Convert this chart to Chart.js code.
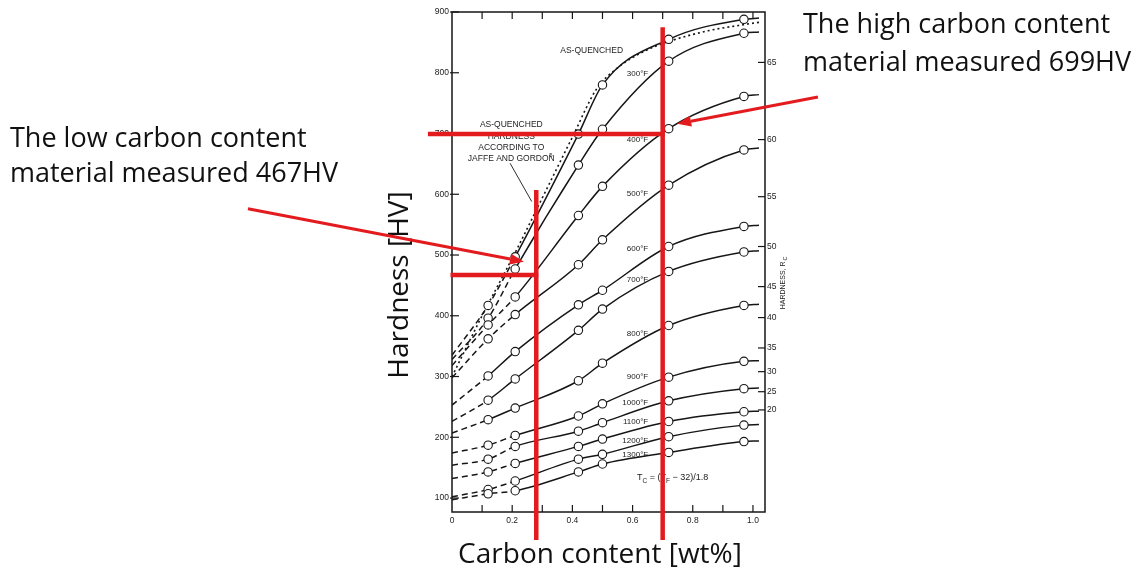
<!DOCTYPE html>
<html>
<head>
<meta charset="utf-8">
<script src="https://cdn.jsdelivr.net/npm/chart.js@4.4.0/dist/chart.umd.min.js"></script>
<style>
  html, body { margin: 0; padding: 0; background: #fff; }
  #wrap { width: 1141px; height: 573px; }
</style>
</head>
<body>
<div id="wrap"><canvas id="myChart"></canvas></div>
<script>
// carbon content [wt%] where the circles sit
const carbon = [0.12, 0.21, 0.42, 0.50, 0.72, 0.97]
const carbonStart = 0
const carbonEnd = 1.02

// hardness [HV] at those carbon contents, one list per tempering temperature
const asQuenched = [417, 497, 699, 780, 855, 888]
const temper300 = [396, 477, 648, 707, 819, 865]
const temper400 = [385, 431, 565, 613, 708, 761]
const temper500 = [362, 402, 484, 525, 615, 673]
const temper600 = [301, 341, 418, 442, 514, 547]
const temper700 = [261, 296, 376, 411, 473, 505]
const temper800 = [229, 248, 293, 322, 384, 417]
const temper900 = [187, 203, 235, 255, 299, 325]
const temper1000 = [164, 185, 210, 224, 260, 280]
const temper1100 = [143, 157, 185, 197, 226, 242]
const temper1200 = [114, 128, 164, 172, 201, 220]
const temper1300 = [107, 112, 143, 156, 175, 193]

// where each curve meets 0 wt% and where it stops on the right
const startHV = [335, 328, 318, 298, 253, 226, 207, 174, 154, 132, 102, 97]
const endHV = [890, 867, 764, 676, 549, 507, 419, 326, 281, 243, 221, 194]

const curveLabels = ['AS-QUENCHED', '300°F', '400°F', '500°F', '600°F', '700°F', '800°F',
  '900°F', '1000°F', '1100°F', '1200°F', '1300°F']

// as-quenched hardness according to Jaffe and Gordon (dotted)
const jaffeCarbon = [0, 0.1, 0.215, 0.3, 0.4, 0.48, 0.55, 0.65, 0.73, 0.85, 0.98, 1.02]
const jaffeHV = [300, 400, 509, 594, 694, 773, 808, 838, 853, 869, 880, 883]

// axis ticks
const xTicks = [0, 0.2, 0.4, 0.6, 0.8, 1.0]
const xMinorTicks = [0.1, 0.2, 0.3, 0.4, 0.5, 0.6, 0.7, 0.8, 0.9, 1.0]
const yTicks = [100, 200, 300, 400, 500, 600, 700, 800, 900]
const hrcTicks = [65, 60, 55, 50, 45, 40, 35, 30, 25, 20]
const hrcHV = [817, 690, 596, 514, 448, 397, 347, 308, 275, 245]

// the two measurements marked in red
const lowCarbon = 0.28
const lowHV = 467
const highCarbon = 0.70
const highHV = 699

// ---- styling / layout ----
const series = [asQuenched, temper300, temper400, temper500, temper600, temper700, temper800,
  temper900, temper1000, temper1100, temper1200, temper1300]
const dashEnd = [2, 2, 2, 2, 1, 1, 1, 2, 2, 2, 2, 2]   // last point index of dashed part
const labelCarbon = 0.652
const labelHV = [837, 798, 690, 601, 511, 460, 370, 300, 256, 226, 195, 171]
const RED = '#e31b1e'
const INK = '#161616'

const lineSets = series.map((vals, i) => {
  const pts = [{ x: carbonStart, y: startHV[i] }]
  carbon.forEach((c, j) => pts.push({ x: c, y: vals[j] }))
  pts.push({ x: carbonEnd, y: endHV[i] })
  return {
    data: pts,
    showLine: true,
    borderColor: INK,
    borderWidth: 1.5,
    pointRadius: 0,
    cubicInterpolationMode: 'monotone',
    order: 2,
    segment: { borderDash: ctx => ctx.p1DataIndex <= dashEnd[i] ? [6, 4] : [] }
  }
})

const jaffeSet = {
  data: jaffeCarbon.map((c, i) => ({ x: c, y: jaffeHV[i] })),
  showLine: true,
  borderColor: INK,
  borderWidth: 1.6,
  borderDash: [2, 3],
  pointRadius: 0,
  cubicInterpolationMode: 'monotone',
  order: 3
}

const circleSet = {
  data: series.flatMap(vals => carbon.map((c, j) => ({ x: c, y: vals[j] }))),
  showLine: false,
  pointRadius: 4.2,
  pointBorderWidth: 1.1,
  pointBorderColor: INK,
  pointBackgroundColor: '#fff',
  order: 0
}

function seg(ctx, x1, y1, x2, y2) {
  ctx.beginPath(); ctx.moveTo(x1, y1); ctx.lineTo(x2, y2); ctx.stroke()
}

function arrow(ctx, x1, y1, x2, y2) {
  const ang = Math.atan2(y2 - y1, x2 - x1)
  const len = 14, half = 5.5
  const bx = x2 - len * Math.cos(ang), by = y2 - len * Math.sin(ang)
  seg(ctx, x1, y1, bx, by)
  ctx.beginPath()
  ctx.moveTo(x2, y2)
  ctx.lineTo(bx + half * Math.sin(ang), by - half * Math.cos(ang))
  ctx.lineTo(bx - half * Math.sin(ang), by + half * Math.cos(ang))
  ctx.closePath(); ctx.fill()
}

const decor = {
  id: 'decor',
  beforeDatasetsDraw(chart) {
    const { ctx, chartArea: a, scales: { x, y, y2 } } = chart
    ctx.save()
    ctx.strokeStyle = INK
    ctx.lineWidth = 1.5
    ctx.strokeRect(a.left, a.top, a.right - a.left, a.bottom - a.top)
    ctx.lineWidth = 1.2
    xMinorTicks.forEach(v => {
      const px = x.getPixelForValue(v)
      seg(ctx, px, a.bottom, px, a.bottom - 7)
      seg(ctx, px, a.top, px, a.top + 7)
    })
    yTicks.forEach(v => {
      const py = y.getPixelForValue(v)
      seg(ctx, a.left - 2, py, a.left + 7, py)
    })
    hrcHV.forEach(v => {
      const py = y2.getPixelForValue(v)
      seg(ctx, a.right - 7, py, a.right, py)
    })
    ctx.restore()
  },
  afterDraw(chart) {
    const { ctx, chartArea: a, scales: { x, y } } = chart
    const X = c => x.getPixelForValue(c)
    const Y = v => y.getPixelForValue(v)
    ctx.save()
    ctx.fillStyle = '#1c1c1c'
    ctx.textBaseline = 'middle'

    // curve labels
    ctx.font = '8px "Liberation Sans", Arial, sans-serif'
    ctx.textAlign = 'right'
    curveLabels.forEach((s, i) => {
      if (i === 0) return
      ctx.fillText(s, X(labelCarbon), Y(labelHV[i]))
    })
    ctx.textAlign = 'center'
    ctx.font = '8.5px "Liberation Sans", Arial, sans-serif'
    ctx.fillText(curveLabels[0], X(0.464), Y(labelHV[0]))

    // Jaffe and Gordon note
    const jg = ['AS-QUENCHED', 'HARDNESS', 'ACCORDING TO', 'JAFFE AND GORDON']
    const jgHV = [714, 695, 677, 659]
    jg.forEach((s, i) => ctx.fillText(s, X(0.197), Y(jgHV[i])))
    ctx.font = '6px "Liberation Sans", Arial, sans-serif'
    ctx.textAlign = 'left'
    ctx.fillText('5', X(0.197) + 38, Y(664))
    ctx.strokeStyle = INK
    ctx.lineWidth = 0.9
    seg(ctx, X(0.193), Y(651), X(0.265), Y(588))

    // temperature conversion
    let tx = X(0.615), ty = Y(133)
    const parts = [['T', 0], ['C', 1], [' = (T', 0], ['F', 1], [' \u2212 32)/1.8', 0]]
    parts.forEach(([s, sub]) => {
      ctx.font = (sub ? '6.5px' : '9px') + ' "Liberation Sans", Arial, sans-serif'
      ctx.fillText(s, tx, ty + (sub ? 3 : 0))
      tx += ctx.measureText(s).width
    })

    // right axis title
    ctx.save()
    ctx.translate(a.right + 18, Y(455))
    ctx.rotate(-Math.PI / 2)
    ctx.textAlign = 'center'
    ctx.font = '7px "Liberation Sans", Arial, sans-serif'
    const w1 = ctx.measureText('HARDNESS, R').width
    ctx.fillText('HARDNESS, R', -3, 0)
    ctx.font = '5.5px "Liberation Sans", Arial, sans-serif'
    ctx.fillText('C', -3 + w1 / 2 + 3, 2.5)
    ctx.restore()

    // axis titles
    ctx.fillStyle = '#111'
    ctx.font = '28px "Open Sans", sans-serif'
    ctx.textAlign = 'center'
    ctx.fillText('Carbon content [wt%]', 600, 555)
    ctx.save()
    ctx.translate(400, 285)
    ctx.rotate(-Math.PI / 2)
    ctx.fillText('Hardness [HV]', 0, 0)
    ctx.restore()

    // red marks
    ctx.strokeStyle = RED
    ctx.fillStyle = RED
    ctx.lineCap = 'butt'
    ctx.lineWidth = 4.5
    seg(ctx, X(lowCarbon), Y(607), X(lowCarbon), Y(31))
    seg(ctx, X(-0.005), Y(lowHV), X(lowCarbon) + 2, Y(lowHV))
    seg(ctx, X(highCarbon), Y(875), X(highCarbon), Y(31))
    seg(ctx, X(-0.08), Y(highHV), X(highCarbon) + 2, Y(highHV))
    ctx.lineWidth = 3
    arrow(ctx, X(-0.678), Y(576), X(0.239), Y(489))
    arrow(ctx, X(1.216), Y(760), X(0.748), Y(716))

    // notes
    ctx.fillStyle = '#111'
    ctx.font = '27px "Open Sans", sans-serif'
    ctx.textAlign = 'left'
    ctx.textBaseline = 'alphabetic'
    ctx.fillText('The low carbon content', 10, 147)
    ctx.fillText('material measured ' + lowHV + 'HV', 10, 182)
    ctx.fillText('The high carbon content', 803, 33)
    ctx.fillText('material measured ' + highHV + 'HV', 803, 71)
    ctx.restore()
  }
}

const tickFont = { size: 8.5, family: '"Liberation Sans", Arial, sans-serif' }
const noGrid = { display: false, drawTicks: false }

new Chart(document.getElementById('myChart'), {
  type: 'scatter',
  data: { datasets: [circleSet, ...lineSets, jaffeSet] },
  options: {
    responsive: true,
    maintainAspectRatio: false,
    animation: false,
    devicePixelRatio: 1,
    layout: { padding: { top: 12, left: 0, right: 0, bottom: 0 } },
    plugins: { legend: { display: false }, tooltip: { enabled: false } },
    scales: {
      x: {
        type: 'linear', min: 0, max: 1.04,
        grid: noGrid, border: { display: false },
        afterBuildTicks: s => { s.ticks = xTicks.map(v => ({ value: v })) },
        ticks: { callback: v => v === 0 ? '0' : v.toFixed(1), font: tickFont, color: '#222', padding: 4, maxRotation: 0, autoSkip: false },
        afterFit: s => { s.height = 61 }
      },
      y: {
        type: 'linear', position: 'left', min: 77, max: 900,
        grid: noGrid, border: { display: false },
        afterBuildTicks: s => { s.ticks = yTicks.map(v => ({ value: v })) },
        ticks: { font: tickFont, color: '#222', padding: 3, autoSkip: false },
        afterFit: s => { s.width = 452 }
      },
      y2: {
        type: 'linear', position: 'right', min: 77, max: 900,
        grid: noGrid, border: { display: false },
        afterBuildTicks: s => { s.ticks = hrcHV.map(v => ({ value: v })) },
        ticks: { callback: v => hrcTicks[hrcHV.indexOf(v)], font: tickFont, color: '#222', padding: 2, autoSkip: false },
        afterFit: s => { s.width = 376 }
      }
    }
  },
  plugins: [decor]
})
</script>
</body>
</html>
